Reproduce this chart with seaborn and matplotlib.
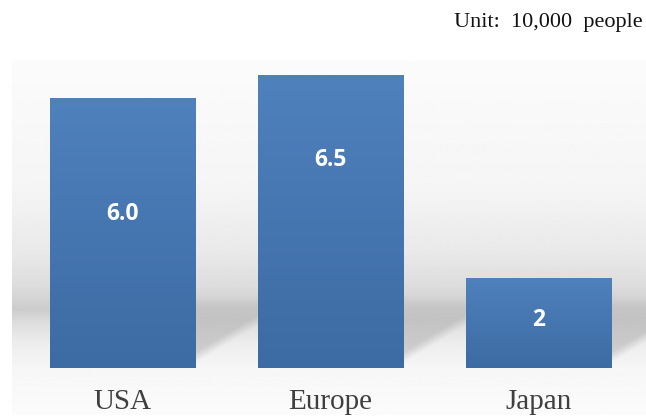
import numpy as np
import pandas as pd
import matplotlib
matplotlib.use("Agg")
import matplotlib.pyplot as plt
import seaborn as sns
from matplotlib.colors import LinearSegmentedColormap

# chart data
regions = ["USA", "Europe", "Japan"]
values = [6.0, 6.5, 2.0]
value_labels = ["6.0", "6.5", "2"]
unit_text = "Unit:  10,000  people"

# where each value label sits, as a fraction of bar height
label_frac = [0.57, 0.71, 0.53]

df = pd.DataFrame({"region": regions, "value": values})

sns.set_theme(style="white")
plt.rcParams["font.family"] = ["DejaVu Sans"]

fig = plt.figure(figsize=(6.46, 4.19), dpi=100)
# axes covers the grey panel (pixels x 12..646, y 60..415)
ax = fig.add_axes([12 / 646, 4 / 419, 634 / 646, 355 / 419])

sns.barplot(data=df, x="region", y="value", color="#4f81bd", width=0.70,
            saturation=1, ax=ax, zorder=3)

x_lo, x_hi = -0.5 - 6.5 / 208, 2.5 + 3.5 / 208
ymin, ymax = -1.04, 6.84
ax.set_xlim(x_lo, x_hi)
ax.set_ylim(ymin, ymax)

# ---- panel background: soft grey band, floor, and cast shadows ----
nx, ny = 640, 360
gx = np.linspace(x_lo, x_hi, nx)
gy = np.linspace(ymin, ymax, ny)
GX, GY = np.meshgrid(gx, gy)
wall = np.interp(gy, [1.3, 1.8, 2.6, 4.0, ymax], [0.80, 0.865, 0.915, 0.96, 0.985])
floor = np.interp(gy, [ymin, 0.0, 0.6, 1.0, 1.3], [0.985, 0.965, 0.925, 0.87, 0.80])
wedge = np.interp(gy, [ymin, 0.0, 0.6, 1.3], [0.9, 0.83, 0.79, 0.75])
base = np.where(gy >= 1.3, wall, floor)
img = np.repeat(base[:, None], nx, axis=1)

bars = list(ax.patches)
for i, p in enumerate(bars):
    x1 = p.get_x() + p.get_width()
    x2 = bars[i + 1].get_x() if i + 1 < len(bars) else x_hi
    bound = 0.1 + 2.8 * (GX - x1)
    soft = np.clip((GY - bound) / 0.25, 0, 1)
    # fade shadow in from below the band
    top = np.clip((1.6 - GY) / 0.5, 0, 1)
    inside = (GX >= x1) & (GX <= x2)
    shaded = img * (1 - soft * top) + wedge[:, None] * soft * top
    img = np.where(inside, np.minimum(img, shaded), img)

ax.imshow(img, cmap="gray", vmin=0, vmax=1, aspect="auto", interpolation="bilinear",
          extent=[x_lo, x_hi, ymin, ymax], origin="lower", zorder=0)

# bar gradient: lighter top, darker bottom
bar_cmap = LinearSegmentedColormap.from_list("bar", ["#3d6ba3", "#4f81bd"])
grad = np.linspace(0, 1, 200)[:, None]
for p in bars:
    x0, y0 = p.get_x(), p.get_y()
    w, h = p.get_width(), p.get_height()
    im = ax.imshow(grad, cmap=bar_cmap, aspect="auto",
                   extent=[x0, x0 + w, y0, y0 + h], origin="lower", zorder=4)
    im.set_clip_path(p)
    p.set_edgecolor("none")

for p, lab, f in zip(bars, value_labels, label_frac):
    ax.text(p.get_x() + p.get_width() / 2, p.get_height() * f, lab,
            ha="center", va="center", color="white", fontsize=16.5,
            fontweight="bold", family=["Open Sans", "DejaVu Sans"], zorder=5)

for i, r in enumerate(regions):
    ax.text(i, -0.76, r, ha="center", va="center", color="#3f3f3f",
            fontsize=21, family=["Liberation Serif", "DejaVu Serif"], zorder=5)

ax.set_xticks([])
ax.set_yticks([])
ax.set_xlabel("")
ax.set_ylabel("")
for s in ax.spines.values():
    s.set_visible(False)

fig.text(643 / 646, 1 - 22 / 419, unit_text, ha="right", va="center",
         fontsize=16, color="#111111", family=["Liberation Serif", "DejaVu Serif"])

fig.savefig("out.png", dpi=100, facecolor="white")
